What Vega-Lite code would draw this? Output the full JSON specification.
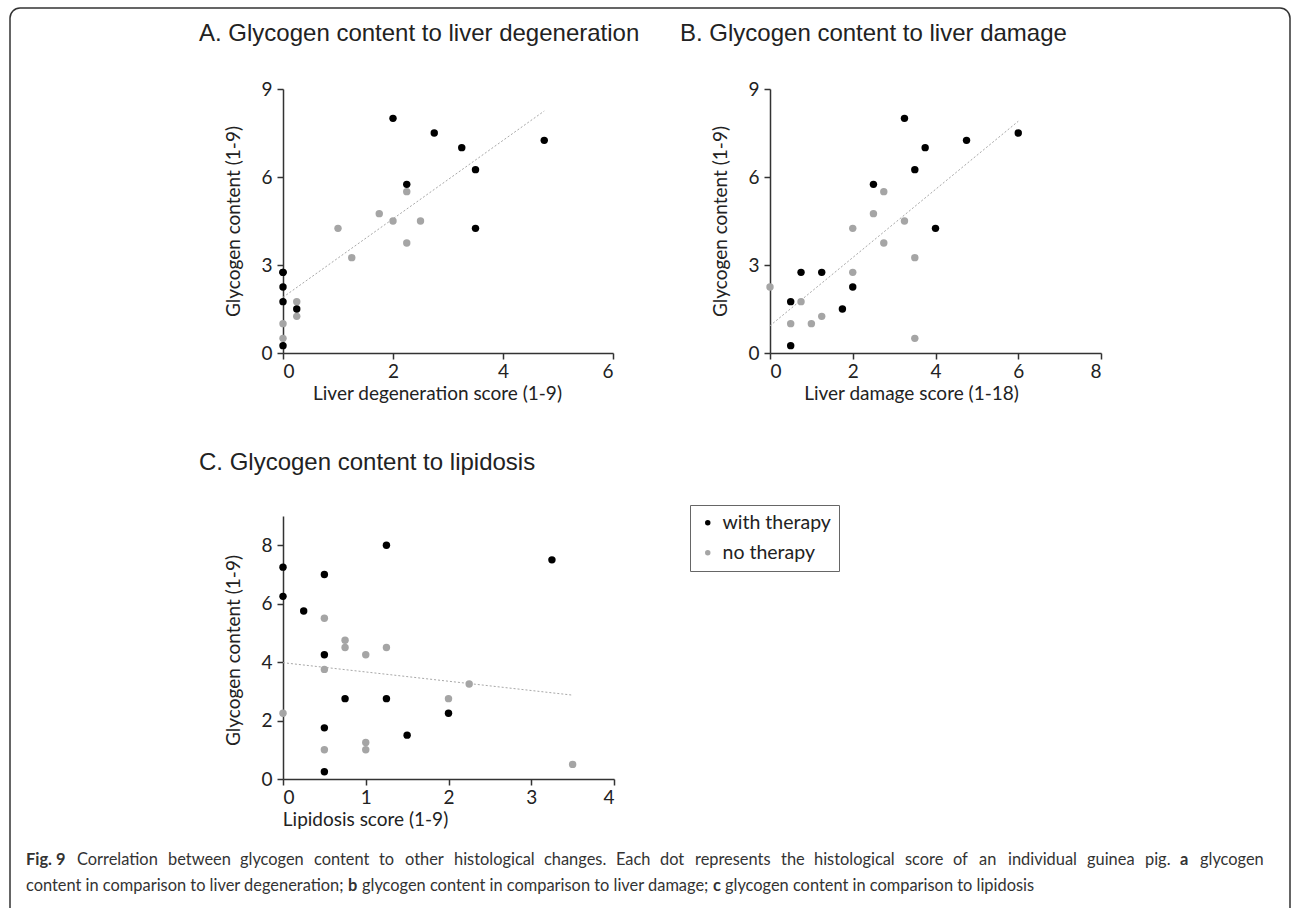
{
  "$schema": "https://vega.github.io/schema/vega-lite/v6.json",
  "background": "white",
  "padding": {"left": 9, "top": 7, "right": 0, "bottom": 0},
  "bounds": "flush",
  "columns": 2,
  "spacing": {"row": 163, "column": 156},
  "config": {
    "view": {"stroke": null},
    "text": {"font": "Lato", "fontSize": 16.4, "fontWeight": "normal", "color": "#333333", "align": "left", "baseline": "alphabetic"},
    "axis": {
      "grid": false,
      "domainColor": "#333333",
      "domainWidth": 1.5,
      "tickColor": "#333333",
      "tickWidth": 1.5,
      "tickSize": 6,
      "labelFont": "Lato",
      "labelFontSize": 19,
      "labelColor": "#222222",
      "labelPadding": 5,
      "format": "d",
      "titleFont": "Lato",
      "titleFontSize": 19,
      "titleFontWeight": "normal",
      "titleColor": "#222222",
      "titleAlign": "center",
      "titleBaseline": "middle"
    },
    "axisX": {"labelPadding": 3},
    "title": {
      "font": "Liberation Sans",
      "fontSize": 24,
      "fontWeight": "normal",
      "color": "#222222",
      "anchor": "start",
      "frame": "group",
      "baseline": "alphabetic"
    },
    "legend": {
      "orient": "none",
      "legendX": 407,
      "legendY": 416,
      "strokeColor": "#666666",
      "fillColor": "white",
      "padding": 8,
      "labelFont": "Lato",
      "labelFontSize": 19.5,
      "labelColor": "#222222",
      "labelOffset": 5,
      "rowPadding": 9,
      "symbolType": "circle",
      "symbolSize": 30,
      "symbolStrokeWidth": 0
    }
  },
  "datasets": {
    "degeneration": [
      {"score": 2.25, "glycogen": 5.5, "group": "no therapy"},
      {"score": 1.75, "glycogen": 4.75, "group": "no therapy"},
      {"score": 2, "glycogen": 4.5, "group": "no therapy"},
      {"score": 2.5, "glycogen": 4.5, "group": "no therapy"},
      {"score": 1, "glycogen": 4.25, "group": "no therapy"},
      {"score": 2.25, "glycogen": 3.75, "group": "no therapy"},
      {"score": 1.25, "glycogen": 3.25, "group": "no therapy"},
      {"score": 0.25, "glycogen": 1.75, "group": "no therapy"},
      {"score": 0.25, "glycogen": 1.25, "group": "no therapy"},
      {"score": 0, "glycogen": 1, "group": "no therapy"},
      {"score": 0, "glycogen": 0.5, "group": "no therapy"},
      {"score": 2, "glycogen": 8, "group": "with therapy"},
      {"score": 2.75, "glycogen": 7.5, "group": "with therapy"},
      {"score": 3.25, "glycogen": 7, "group": "with therapy"},
      {"score": 4.75, "glycogen": 7.25, "group": "with therapy"},
      {"score": 3.5, "glycogen": 6.25, "group": "with therapy"},
      {"score": 2.25, "glycogen": 5.75, "group": "with therapy"},
      {"score": 3.5, "glycogen": 4.25, "group": "with therapy"},
      {"score": 0, "glycogen": 2.75, "group": "with therapy"},
      {"score": 0, "glycogen": 2.75, "group": "with therapy"},
      {"score": 0, "glycogen": 2.25, "group": "with therapy"},
      {"score": 0, "glycogen": 1.75, "group": "with therapy"},
      {"score": 0.25, "glycogen": 1.5, "group": "with therapy"},
      {"score": 0, "glycogen": 0.25, "group": "with therapy"}
    ],
    "damage": [
      {"score": 2.75, "glycogen": 5.5, "group": "no therapy"},
      {"score": 2.5, "glycogen": 4.75, "group": "no therapy"},
      {"score": 3.25, "glycogen": 4.5, "group": "no therapy"},
      {"score": 2, "glycogen": 4.25, "group": "no therapy"},
      {"score": 2.75, "glycogen": 3.75, "group": "no therapy"},
      {"score": 3.5, "glycogen": 3.25, "group": "no therapy"},
      {"score": 2, "glycogen": 2.75, "group": "no therapy"},
      {"score": 0, "glycogen": 2.25, "group": "no therapy"},
      {"score": 0.75, "glycogen": 1.75, "group": "no therapy"},
      {"score": 1.25, "glycogen": 1.25, "group": "no therapy"},
      {"score": 0.5, "glycogen": 1, "group": "no therapy"},
      {"score": 1, "glycogen": 1, "group": "no therapy"},
      {"score": 3.5, "glycogen": 0.5, "group": "no therapy"},
      {"score": 3.25, "glycogen": 8, "group": "with therapy"},
      {"score": 6, "glycogen": 7.5, "group": "with therapy"},
      {"score": 4.75, "glycogen": 7.25, "group": "with therapy"},
      {"score": 3.75, "glycogen": 7, "group": "with therapy"},
      {"score": 3.5, "glycogen": 6.25, "group": "with therapy"},
      {"score": 2.5, "glycogen": 5.75, "group": "with therapy"},
      {"score": 4, "glycogen": 4.25, "group": "with therapy"},
      {"score": 0.75, "glycogen": 2.75, "group": "with therapy"},
      {"score": 1.25, "glycogen": 2.75, "group": "with therapy"},
      {"score": 2, "glycogen": 2.25, "group": "with therapy"},
      {"score": 0.5, "glycogen": 1.75, "group": "with therapy"},
      {"score": 1.75, "glycogen": 1.5, "group": "with therapy"},
      {"score": 0.5, "glycogen": 0.25, "group": "with therapy"}
    ],
    "lipidosis": [
      {"score": 0.5, "glycogen": 5.5, "group": "no therapy"},
      {"score": 0.75, "glycogen": 4.75, "group": "no therapy"},
      {"score": 0.75, "glycogen": 4.5, "group": "no therapy"},
      {"score": 1.25, "glycogen": 4.5, "group": "no therapy"},
      {"score": 1, "glycogen": 4.25, "group": "no therapy"},
      {"score": 0.5, "glycogen": 3.75, "group": "no therapy"},
      {"score": 2.25, "glycogen": 3.25, "group": "no therapy"},
      {"score": 2, "glycogen": 2.75, "group": "no therapy"},
      {"score": 0, "glycogen": 2.25, "group": "no therapy"},
      {"score": 1, "glycogen": 1.25, "group": "no therapy"},
      {"score": 0.5, "glycogen": 1, "group": "no therapy"},
      {"score": 1, "glycogen": 1, "group": "no therapy"},
      {"score": 3.5, "glycogen": 0.5, "group": "no therapy"},
      {"score": 0, "glycogen": 7.25, "group": "with therapy"},
      {"score": 0, "glycogen": 6.25, "group": "with therapy"},
      {"score": 0.5, "glycogen": 7, "group": "with therapy"},
      {"score": 0.25, "glycogen": 5.75, "group": "with therapy"},
      {"score": 1.25, "glycogen": 8, "group": "with therapy"},
      {"score": 3.25, "glycogen": 7.5, "group": "with therapy"},
      {"score": 0.5, "glycogen": 4.25, "group": "with therapy"},
      {"score": 0.75, "glycogen": 2.75, "group": "with therapy"},
      {"score": 1.25, "glycogen": 2.75, "group": "with therapy"},
      {"score": 2, "glycogen": 2.25, "group": "with therapy"},
      {"score": 0.5, "glycogen": 1.75, "group": "with therapy"},
      {"score": 1.5, "glycogen": 1.5, "group": "with therapy"},
      {"score": 0.5, "glycogen": 0.25, "group": "with therapy"}
    ],
    "trendDegeneration": [
      {"score": 0, "glycogen": 1.9},
      {"score": 4.75, "glycogen": 8.25}
    ],
    "trendDamage": [
      {"score": 0, "glycogen": 0.93},
      {"score": 6, "glycogen": 7.9}
    ],
    "trendLipidosis": [
      {"score": 0, "glycogen": 3.98},
      {"score": 3.5, "glycogen": 2.87}
    ]
  },
  "concat": [
    {
      "title": {"text": "A. Glycogen content to liver degeneration", "dx": -84, "offset": 34},
      "width": 330,
      "height": 264,
      "layer": [
        {
          "data": {"name": "trendDegeneration"},
          "mark": {"type": "line", "color": "#a8a8a8", "strokeWidth": 1, "strokeDash": [2, 2]},
          "encoding": {
            "x": {"field": "score", "type": "quantitative"},
            "y": {"field": "glycogen", "type": "quantitative"}
          }
        },
        {
          "data": {"name": "degeneration"},
          "mark": {"type": "circle", "size": 55, "opacity": 1},
          "encoding": {
            "x": {"field": "score", "type": "quantitative", "scale": {"domain": [0, 6], "nice": false},
              "axis": {"values": [0, 2, 4, 6], "title": "Liver degeneration score (1-9)", "titleX": 154, "titleY": 40}},
            "y": {"field": "glycogen", "type": "quantitative", "scale": {"domain": [0, 9], "nice": false},
              "axis": {"values": [0, 3, 6, 9], "title": "Glycogen content (1-9)", "titleX": -50, "titleY": 132}},
            "color": {"field": "group", "type": "nominal", "title": null,
              "scale": {"domain": ["with therapy", "no therapy"], "range": ["#000000", "#a5a5a5"]}}
          }
        }
      ]
    },
    {
      "title": {"text": "B. Glycogen content to liver damage", "dx": -90, "offset": 34},
      "width": 331,
      "height": 264,
      "layer": [
        {
          "data": {"name": "trendDamage"},
          "mark": {"type": "line", "color": "#a8a8a8", "strokeWidth": 1, "strokeDash": [2, 2]},
          "encoding": {
            "x": {"field": "score", "type": "quantitative"},
            "y": {"field": "glycogen", "type": "quantitative"}
          }
        },
        {
          "data": {"name": "damage"},
          "mark": {"type": "circle", "size": 55, "opacity": 1},
          "encoding": {
            "x": {"field": "score", "type": "quantitative", "scale": {"domain": [0, 8], "nice": false},
              "axis": {"values": [0, 2, 4, 6, 8], "title": "Liver damage score (1-18)", "titleX": 141, "titleY": 40}},
            "y": {"field": "glycogen", "type": "quantitative", "scale": {"domain": [0, 9], "nice": false},
              "axis": {"values": [0, 3, 6, 9], "title": "Glycogen content (1-9)", "titleX": -50, "titleY": 132}},
            "color": {"field": "group", "type": "nominal", "title": null,
              "scale": {"domain": ["with therapy", "no therapy"], "range": ["#000000", "#a5a5a5"]}}
          }
        }
      ]
    },
    {
      "title": {"text": "C. Glycogen content to lipidosis", "dx": -84, "offset": 41},
      "width": 331,
      "height": 263,
      "layer": [
        {
          "data": {"name": "trendLipidosis"},
          "mark": {"type": "line", "color": "#a8a8a8", "strokeWidth": 1, "strokeDash": [2, 2]},
          "encoding": {
            "x": {"field": "score", "type": "quantitative"},
            "y": {"field": "glycogen", "type": "quantitative"}
          }
        },
        {
          "data": {"name": "lipidosis"},
          "mark": {"type": "circle", "size": 55, "opacity": 1},
          "encoding": {
            "x": {"field": "score", "type": "quantitative", "scale": {"domain": [0, 4], "nice": false},
              "axis": {"values": [0, 1, 2, 3, 4], "title": "Lipidosis score (1-9)", "titleX": 82, "titleY": 40}},
            "y": {"field": "glycogen", "type": "quantitative", "scale": {"domain": [0, 9], "nice": false},
              "axis": {"values": [0, 2, 4, 6, 8], "title": "Glycogen content (1-9)", "titleX": -50, "titleY": 134}},
            "color": {"field": "group", "type": "nominal", "title": null,
              "scale": {"domain": ["with therapy", "no therapy"], "range": ["#000000", "#a5a5a5"]}}
          }
        }
      ]
    },
    {
      "width": 1,
      "height": 1,
      "data": {"values": [{}]},
      "layer": [
        {"mark": {"type": "rect", "x": -760, "x2": 520, "y": -508, "y2": 414, "fill": null, "stroke": "#333333", "strokeWidth": 1.5, "cornerRadius": 10}, "encoding": {}},
        {"mark": {"type": "text", "text": "Fig. 9", "x": -744, "y": 349, "fontWeight": "bold"}, "encoding": {}},
        {"mark": {"type": "text", "text": "Correlation", "x": -693, "y": 349}, "encoding": {}},
        {"mark": {"type": "text", "text": "between", "x": -602, "y": 349}, "encoding": {}},
        {"mark": {"type": "text", "text": "glycogen", "x": -530, "y": 349}, "encoding": {}},
        {"mark": {"type": "text", "text": "content", "x": -456, "y": 349}, "encoding": {}},
        {"mark": {"type": "text", "text": "to", "x": -391, "y": 349}, "encoding": {}},
        {"mark": {"type": "text", "text": "other", "x": -365, "y": 349}, "encoding": {}},
        {"mark": {"type": "text", "text": "histological", "x": -316, "y": 349}, "encoding": {}},
        {"mark": {"type": "text", "text": "changes.", "x": -226, "y": 349}, "encoding": {}},
        {"mark": {"type": "text", "text": "Each", "x": -154, "y": 349}, "encoding": {}},
        {"mark": {"type": "text", "text": "dot", "x": -110, "y": 349}, "encoding": {}},
        {"mark": {"type": "text", "text": "represents", "x": -75, "y": 349}, "encoding": {}},
        {"mark": {"type": "text", "text": "the", "x": 11, "y": 349}, "encoding": {}},
        {"mark": {"type": "text", "text": "histological", "x": 44, "y": 349}, "encoding": {}},
        {"mark": {"type": "text", "text": "score", "x": 135, "y": 349}, "encoding": {}},
        {"mark": {"type": "text", "text": "of", "x": 183, "y": 349}, "encoding": {}},
        {"mark": {"type": "text", "text": "an", "x": 209, "y": 349}, "encoding": {}},
        {"mark": {"type": "text", "text": "individual", "x": 238, "y": 349}, "encoding": {}},
        {"mark": {"type": "text", "text": "guinea", "x": 317, "y": 349}, "encoding": {}},
        {"mark": {"type": "text", "text": "pig.", "x": 375, "y": 349}, "encoding": {}},
        {"mark": {"type": "text", "text": "a", "x": 410, "y": 349, "fontWeight": "bold"}, "encoding": {}},
        {"mark": {"type": "text", "text": "glycogen", "x": 430, "y": 349}, "encoding": {}},
        {"mark": {"type": "text", "text": "content in comparison to liver degeneration;", "x": -744, "y": 375}, "encoding": {}},
        {"mark": {"type": "text", "text": "b", "x": -422, "y": 375, "fontWeight": "bold"}, "encoding": {}},
        {"mark": {"type": "text", "text": "glycogen content in comparison to liver damage;", "x": -408, "y": 375}, "encoding": {}},
        {"mark": {"type": "text", "text": "c", "x": -57, "y": 375, "fontWeight": "bold"}, "encoding": {}},
        {"mark": {"type": "text", "text": "glycogen content in comparison to lipidosis", "x": -45, "y": 375}, "encoding": {}}
      ]
    }
  ]
}
